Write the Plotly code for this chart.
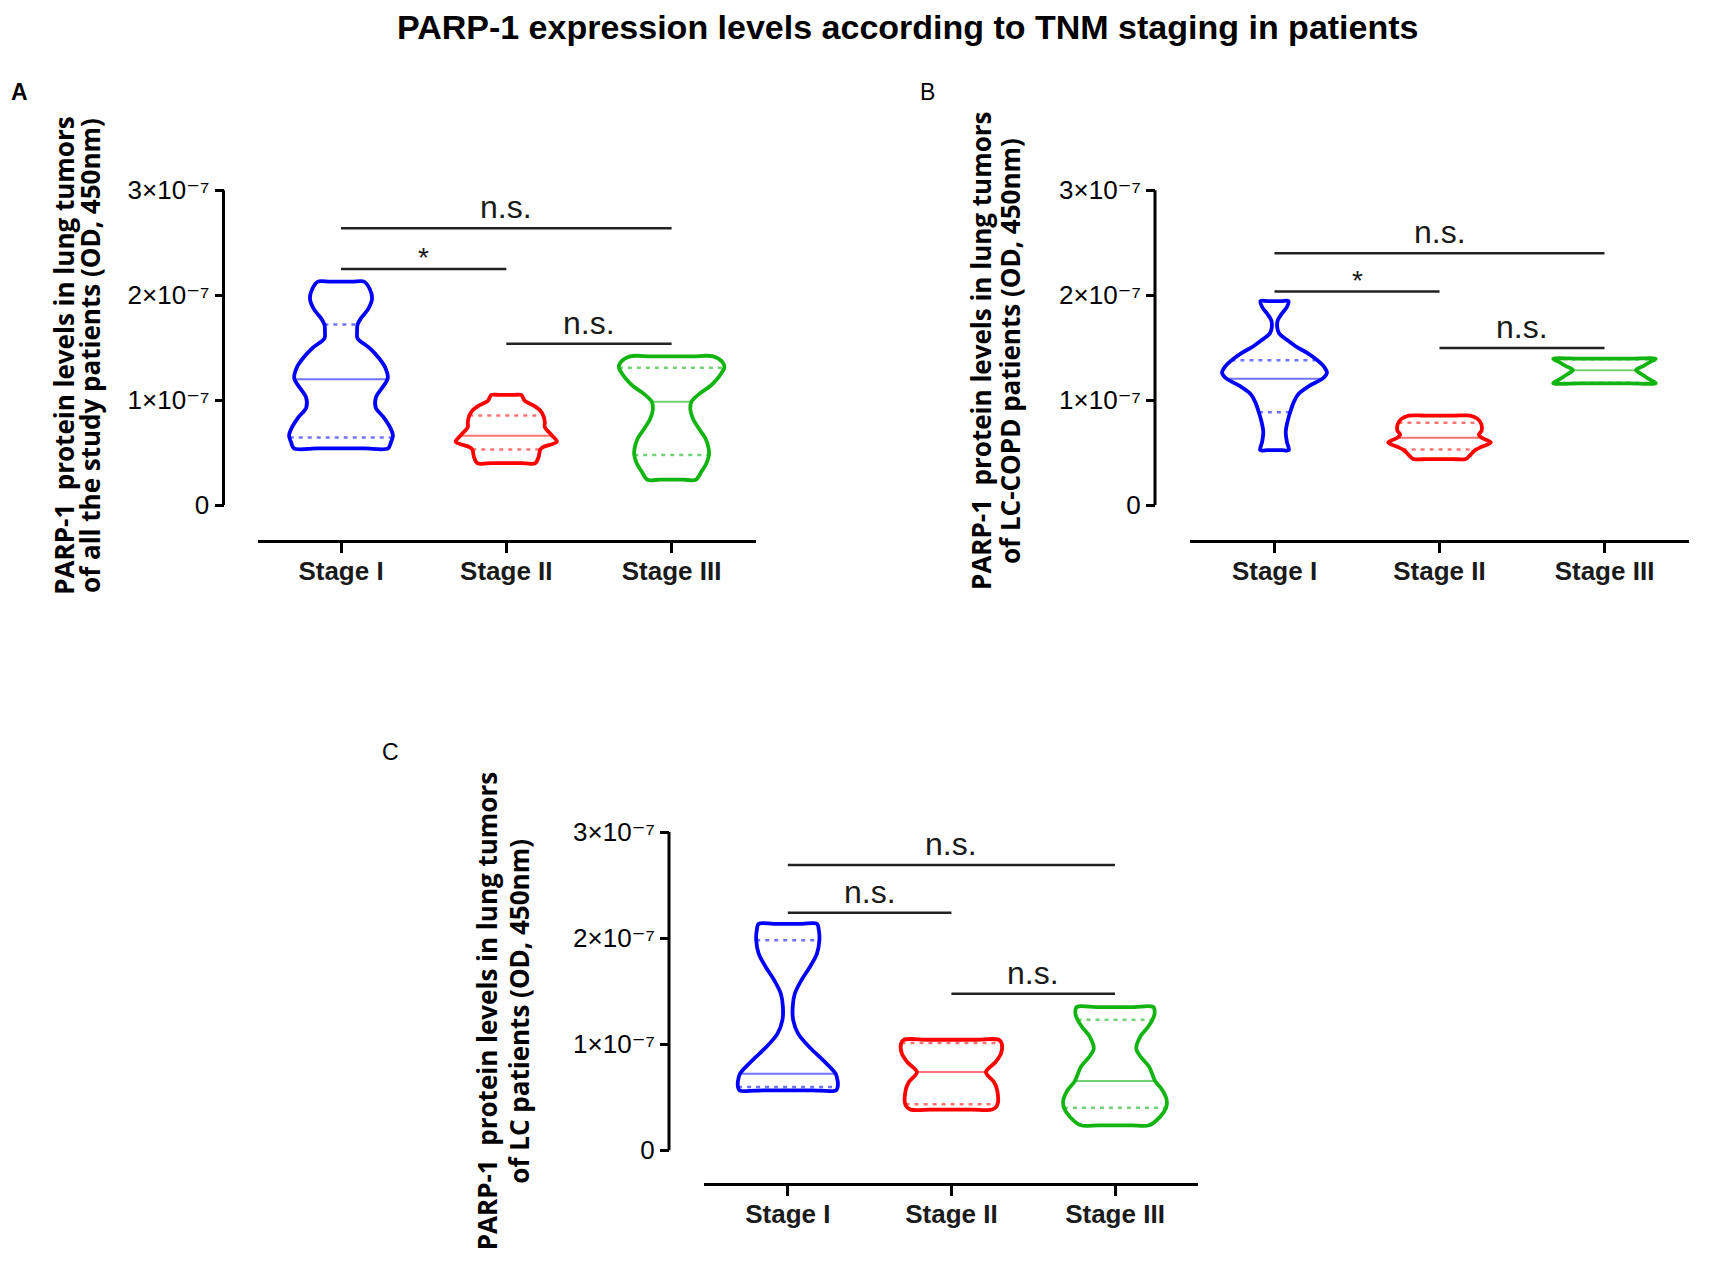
import numpy as np
import plotly.graph_objects as go

# ---------------- data (values in units of 1e-7 OD) ----------------
SCALE = 1e-7
STAGES = ["Stage I", "Stage II", "Stage III"]
Y_TICK_VALUES = [0, 1, 2, 3]
Y_TICK_TEXT = ["0", "1×10⁻⁷", "2×10⁻⁷", "3×10⁻⁷"]
TITLE = "PARP-1 expression levels according to TNM staging in patients"

# Panel A: all study patients -- violin density profiles (level, relative half-width)
A_LEVELS = [
    [0.54, 0.59, 0.665, 0.74, 0.84, 0.93, 1.03, 1.12, 1.21, 1.31, 1.40, 1.50, 1.59, 1.65, 1.72, 1.78, 1.87, 1.97, 2.06, 2.13],
    [0.40, 0.461, 0.531, 0.556, 0.603, 0.665, 0.744, 0.791, 0.853, 0.90, 0.948, 0.994, 1.05],
    [0.242, 0.32, 0.398, 0.477, 0.54, 0.633, 0.728, 0.821, 0.916, 0.985, 1.058, 1.137, 1.199, 1.262, 1.309, 1.356, 1.418],
]
A_DENSITY = [
    [0.285, 0.30, 0.314, 0.297, 0.256, 0.21, 0.212, 0.25, 0.283, 0.268, 0.23, 0.17, 0.10, 0.097, 0.10, 0.12, 0.165, 0.188, 0.174, 0.14],
    [0.176, 0.196, 0.206, 0.226, 0.306, 0.276, 0.233, 0.233, 0.224, 0.206, 0.166, 0.112, 0.09],
    [0.146, 0.181, 0.211, 0.226, 0.224, 0.206, 0.166, 0.13, 0.113, 0.12, 0.166, 0.236, 0.274, 0.303, 0.319, 0.311, 0.251],
]
A_MEDIAN = [1.20, 0.66, 0.985]
A_Q1 = [0.644, 0.531, 0.477]
A_Q3 = [1.722, 0.853, 1.309]
A_BAR_FROM = [0, 0, 1]
A_BAR_TO = [2, 1, 2]
A_BAR_LEVEL = [2.64, 2.25, 1.537]
A_BAR_LABEL = ["n.s.", "*", "n.s."]
A_YTITLE = ["PARP-1&nbsp; protein levels in lung tumors", "of all the study patients (OD, 450nm)"]

# Panel B: LC-COPD patients
B_LEVELS = [
    [0.524, 0.603, 0.697, 0.791, 0.885, 0.979, 1.057, 1.136, 1.205, 1.261, 1.317, 1.38, 1.449, 1.512, 1.575, 1.637, 1.70, 1.763, 1.826, 1.888, 1.945],
    [0.439, 0.477, 0.524, 0.556, 0.596, 0.641, 0.672, 0.712, 0.775, 0.822, 0.853],
    [1.161, 1.20, 1.243, 1.286, 1.325, 1.36, 1.396],
]
B_DENSITY = [
    [0.087, 0.075, 0.068, 0.078, 0.095, 0.116, 0.144, 0.211, 0.291, 0.318, 0.301, 0.261, 0.20, 0.13, 0.075, 0.028, 0.016, 0.02, 0.045, 0.075, 0.085],
    [0.159, 0.186, 0.216, 0.256, 0.311, 0.256, 0.238, 0.256, 0.253, 0.231, 0.186],
    [0.311, 0.27, 0.23, 0.191, 0.234, 0.272, 0.311],
]
B_MEDIAN = [1.205, 0.641, 1.286]
B_Q1 = [0.885, 0.53, 1.165]
B_Q3 = [1.38, 0.784, 1.39]
B_BAR_FROM = [0, 0, 1]
B_BAR_TO = [2, 1, 2]
B_BAR_LEVEL = [2.40, 2.035, 1.497]
B_BAR_LABEL = ["n.s.", "*", "n.s."]
B_YTITLE = ["PARP-1&nbsp; protein levels in lung tumors", "of LC-COPD patients (OD, 450nm)"]

# Panel C: LC patients
C_LEVELS = [
    [0.565, 0.60, 0.65, 0.72, 0.85, 0.976, 1.10, 1.227, 1.352, 1.478, 1.603, 1.728, 1.854, 1.98, 2.072, 2.135],
    [0.383, 0.424, 0.565, 0.643, 0.737, 0.832, 0.91, 1.004, 1.042],
    [0.235, 0.314, 0.40, 0.471, 0.565, 0.653, 0.785, 0.879, 0.957, 1.067, 1.161, 1.23, 1.287, 1.35],
]
C_DENSITY = [
    [0.295, 0.305, 0.305, 0.293, 0.215, 0.13, 0.063, 0.033, 0.030, 0.043, 0.083, 0.135, 0.178, 0.193, 0.19, 0.178],
    [0.25, 0.28, 0.28, 0.26, 0.211, 0.27, 0.303, 0.308, 0.29],
    [0.209, 0.275, 0.312, 0.316, 0.29, 0.245, 0.209, 0.158, 0.13, 0.153, 0.201, 0.229, 0.242, 0.234],
]
C_MEDIAN = [0.72, 0.737, 0.653]
C_Q1 = [0.596, 0.433, 0.40]
C_Q3 = [1.98, 1.01, 1.23]
C_BAR_FROM = [0, 0, 1]
C_BAR_TO = [2, 1, 2]
C_BAR_LEVEL = [2.69, 2.24, 1.475]
C_BAR_LABEL = ["n.s.", "n.s.", "n.s."]
C_YTITLE = ["PARP-1&nbsp; protein levels in lung tumors", "of LC patients (OD, 450nm)"]

# ---------------- styling / layout ----------------
W, H = 1710, 1267
COLORS = ["#0000FF", "#FF0000", "#12B412"]
LIGHT = ["rgba(0,0,255,0.55)", "rgba(255,0,0,0.55)", "rgba(18,180,18,0.6)"]
TXT = "Liberation Sans, DejaVu Sans, sans-serif"


def px_x(p):
    return p / W


def px_y(p):
    return 1 - p / H


# panel geometry in page pixels
PANELS = [
    dict(name="A", levels=A_LEVELS, dens=A_DENSITY, med=A_MEDIAN, q1=A_Q1, q3=A_Q3,
         bf=A_BAR_FROM, bt=A_BAR_TO, bl=A_BAR_LEVEL, blab=A_BAR_LABEL, ytitle=A_YTITLE,
         yax_px=223.5, stage1_px=341.0, step_px=165.3, xlo=-0.5, xhi=2.51,
         y3_px=179.2, y0_px=497.2, xline_px=532.1,
         label_xy=(19, 80), label_bold=True, ytitle_x=(63.8, 90.0), ytitle_y=346.5),
    dict(name="B", levels=B_LEVELS, dens=B_DENSITY, med=B_MEDIAN, q1=B_Q1, q3=B_Q3,
         bf=B_BAR_FROM, bt=B_BAR_TO, bl=B_BAR_LEVEL, blab=B_BAR_LABEL, ytitle=B_YTITLE,
         yax_px=1155.0, stage1_px=1274.5, step_px=165.0, xlo=-0.51, xhi=2.51,
         y3_px=179.2, y0_px=497.2, xline_px=532.1,
         label_xy=(927, 80), label_bold=False, ytitle_x=(980.9, 1010.0), ytitle_y=341.5),
    dict(name="C", levels=C_LEVELS, dens=C_DENSITY, med=C_MEDIAN, q1=C_Q1, q3=C_Q3,
         bf=C_BAR_FROM, bt=C_BAR_TO, bl=C_BAR_LEVEL, blab=C_BAR_LABEL, ytitle=C_YTITLE,
         yax_px=669.0, stage1_px=787.8, step_px=163.6, xlo=-0.51, xhi=2.51,
         y3_px=827.6, y0_px=1149.0, xline_px=1182.3,
         label_xy=(390, 747), label_bold=False, ytitle_x=(486.6, 519.0), ytitle_y=1009.0),
]

fig = go.Figure()
shapes = []
annotations = []
layout_axes = {}

for i, P in enumerate(PANELS):
    n = "" if i == 0 else str(i + 1)
    xa, ya = "x" + n, "y" + n
    ppu = (P["y0_px"] - P["y3_px"]) / 3.0
    ylo = -(P["xline_px"] - P["y0_px"]) / ppu
    yhi = 3.02
    ytop_px = P["y0_px"] - yhi * ppu
    xl_px = P["stage1_px"] + P["xlo"] * P["step_px"]
    xr_px = P["stage1_px"] + P["xhi"] * P["step_px"]

    layout_axes["xaxis" + n] = dict(
        domain=[px_x(xl_px), px_x(xr_px)], range=[P["xlo"], P["xhi"]], anchor=ya,
        tickmode="array", tickvals=[0, 1, 2], ticktext=STAGES,
        ticks="outside", ticklen=10, tickwidth=3, tickcolor="black",
        ticklabelstandoff=-4,
        showline=True, linewidth=3, linecolor="black",
        showgrid=False, zeroline=False,
        tickfont=dict(family=TXT, size=26, color="#1a1a1a", weight="bold"),
    )
    layout_axes["yaxis" + n] = dict(
        domain=[px_y(P["xline_px"]), px_y(ytop_px)], range=[ylo * SCALE, yhi * SCALE],
        anchor="free", position=px_x(P["yax_px"]),
        tickmode="array", tickvals=[v * SCALE for v in Y_TICK_VALUES], ticktext=Y_TICK_TEXT,
        ticks="outside", ticklen=9, tickwidth=3, tickcolor="black",
        showline=False, showgrid=False, zeroline=False,
        tickfont=dict(family=TXT, size=26, color="black"),
    )
    # y axis line from 0 to 3e-7
    shapes.append(dict(type="line", xref="paper", yref=ya,
                       x0=px_x(P["yax_px"]), x1=px_x(P["yax_px"]),
                       y0=0, y1=3 * SCALE, line=dict(color="black", width=3)))

    # violins
    for s in range(3):
        lv = np.array(P["levels"][s])
        dw = np.array(P["dens"][s])
        for val, dash, wdt in ((P["q1"][s], "4px,5px", 2.5), (P["q3"][s], "4px,5px", 2.5),
                               (P["med"][s], "solid", 2)):
            hw = float(np.interp(val, lv, dw))
            fig.add_trace(go.Scatter(
                x=[s - hw, s + hw], y=[val * SCALE, val * SCALE], xaxis=xa, yaxis=ya,
                mode="lines", line=dict(color=LIGHT[s], width=wdt, dash=dash),
                hoverinfo="skip", showlegend=False))
        xs = ([s, s + 0.5 * dw[0]] + list(s + dw)
              + [s + 0.5 * dw[-1], s, s - 0.5 * dw[-1]]
              + list(s - dw[::-1]) + [s - 0.5 * dw[0], s])
        ys = ([lv[0], lv[0]] + list(lv) + [lv[-1]] * 3 + list(lv[::-1]) + [lv[0], lv[0]])
        fig.add_trace(go.Scatter(
            x=xs, y=[v * SCALE for v in ys], xaxis=xa, yaxis=ya,
            mode="lines", line=dict(color=COLORS[s], width=3.8, shape="spline", smoothing=0.9),
            hoverinfo="skip", showlegend=False))

    # significance bars
    for a, b, lvl, lab in zip(P["bf"], P["bt"], P["bl"], P["blab"]):
        shapes.append(dict(type="line", xref=xa, yref=ya, x0=a, x1=b,
                           y0=lvl * SCALE, y1=lvl * SCALE,
                           line=dict(color="#222222", width=2.5)))
        star = lab == "*"
        annotations.append(dict(
            xref=xa, yref=ya, x=(a + b) / 2, y=lvl * SCALE, text=lab, showarrow=False,
            xanchor="center", yanchor="bottom", yshift=-6 if star else 1,
            font=dict(family=TXT, size=28 if star else 32, color="#1a1a1a")))

    # panel letter
    annotations.append(dict(
        xref="paper", yref="paper", x=px_x(P["label_xy"][0]), y=px_y(P["label_xy"][1]),
        text=P["name"], showarrow=False, xanchor="center", yanchor="middle",
        font=dict(family=TXT, size=23, color="black",
                  weight="bold" if P["label_bold"] else "normal")))
    # y axis title: two rotated lines
    for line_text, lx in zip(P["ytitle"], P["ytitle_x"]):
        annotations.append(dict(
            xref="paper", yref="paper", x=px_x(lx), y=px_y(P["ytitle_y"]),
            text=line_text, showarrow=False, textangle=-90, xanchor="center", yanchor="middle",
            font=dict(family="Open Sans", size=26, color="black", weight="bold")))

# main title
annotations.append(dict(
    xref="paper", yref="paper", x=px_x(907), y=px_y(14), text=TITLE, showarrow=False,
    xanchor="center", yanchor="middle",
    font=dict(family=TXT, size=34, color="black", weight="bold")))

fig.update_layout(
    width=W, height=H, margin=dict(l=0, r=0, t=0, b=0),
    paper_bgcolor="white", plot_bgcolor="white", showlegend=False,
    shapes=shapes, annotations=annotations, **layout_axes)

fig.write_html("out.html", config={"displayModeBar": False},
               post_script="document.body.style.margin='0';document.body.style.padding='0';")
